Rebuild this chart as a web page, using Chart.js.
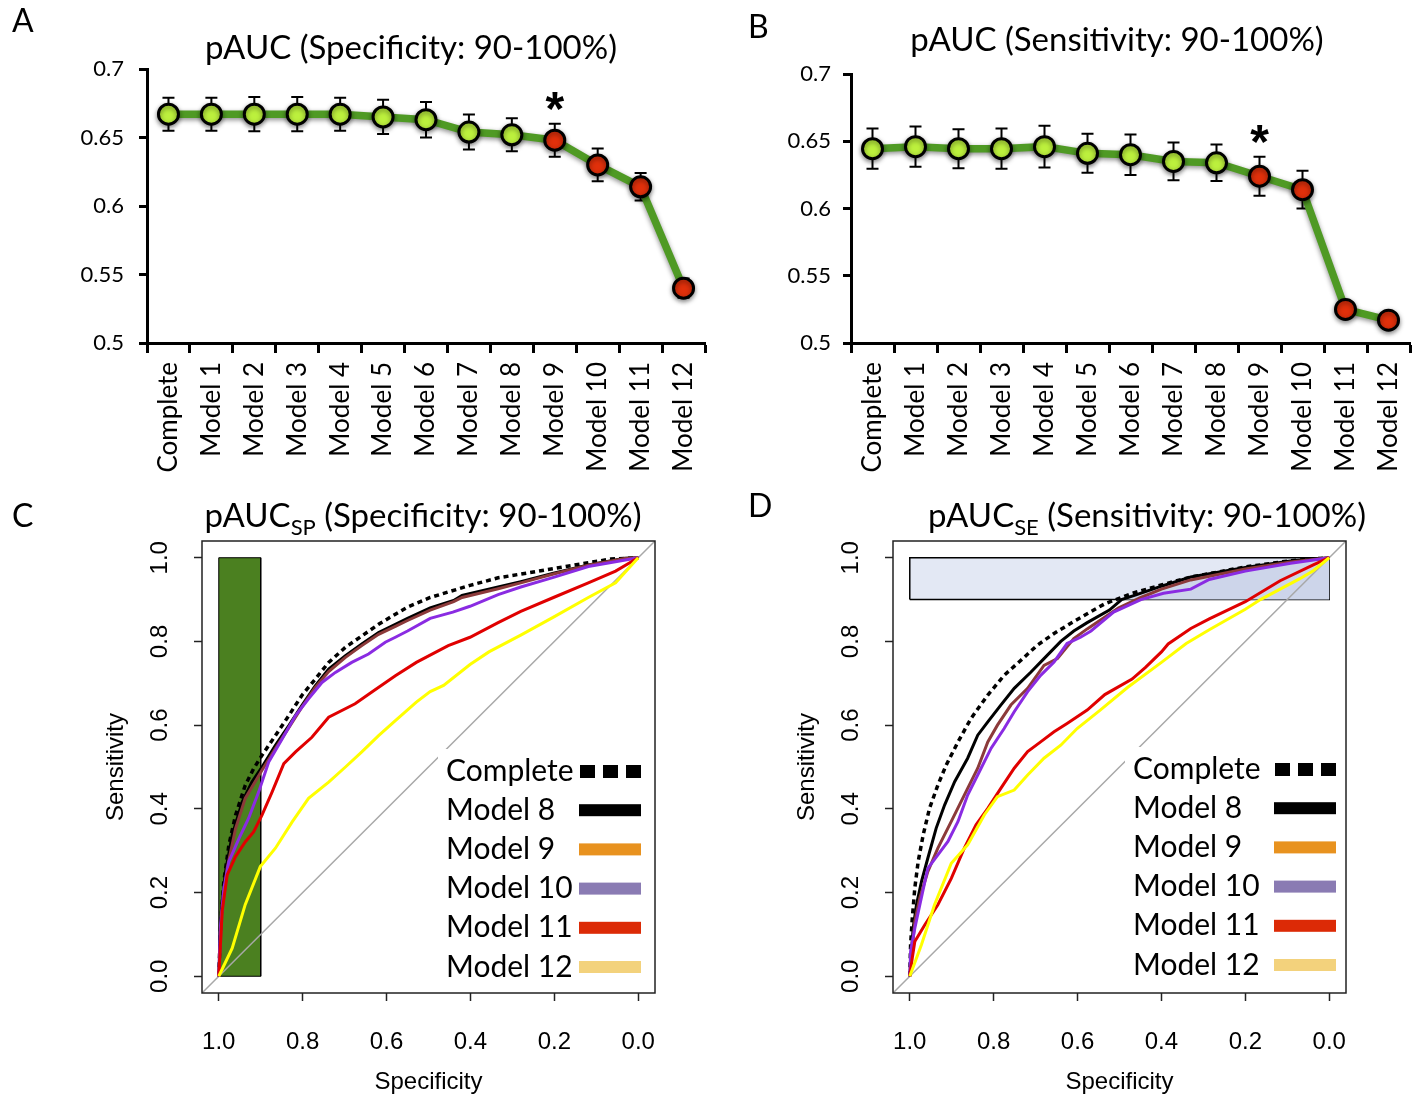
<!DOCTYPE html>
<html>
<head>
<meta charset="utf-8">
<script src="https://cdn.jsdelivr.net/npm/chart.js@4.4.1/dist/chart.umd.min.js"></script>
<style>
  body { margin: 0; background: #fff; }
  #wrap { position: relative; width: 1421px; height: 1097px; }
  canvas { position: absolute; }
</style>
</head>
<body>
<div id="wrap">
  <canvas id="cA" width="710" height="480" style="left:0;top:0"></canvas>
  <canvas id="cB" width="711" height="480" style="left:710px;top:0"></canvas>
  <canvas id="cC" width="710" height="607" style="left:0;top:490px"></canvas>
  <canvas id="cD" width="711" height="607" style="left:710px;top:490px"></canvas>
</div>
<script>
// --- data ---
const models = ['Complete', 'Model 1', 'Model 2', 'Model 3', 'Model 4', 'Model 5', 'Model 6',
  'Model 7', 'Model 8', 'Model 9', 'Model 10', 'Model 11', 'Model 12'];
const yTicksAB = [0.5, 0.55, 0.6, 0.65, 0.7];

// panel A: pAUC, specificity 90-100%
const paucSpec = [0.667, 0.667, 0.667, 0.667, 0.667, 0.665, 0.663, 0.654, 0.652, 0.648, 0.630, 0.614, 0.540];
const errSpec  = [0.012, 0.012, 0.0125, 0.0125, 0.012, 0.0125, 0.013, 0.0127, 0.012, 0.012, 0.012, 0.010, 0.007];
// panel B: pAUC, sensitivity 90-100%
const paucSens = [0.6445, 0.646, 0.6445, 0.6445, 0.646, 0.641, 0.640, 0.635, 0.634, 0.624, 0.614, 0.525, 0.517];
const errSens  = [0.015, 0.015, 0.0145, 0.015, 0.0155, 0.0145, 0.015, 0.014, 0.0135, 0.0145, 0.014, 0.003, 0.003];
const significant = [0, 0, 0, 0, 0, 0, 0, 0, 0, 1, 1, 1, 1];
const starModel = 'Model 9';

const rocTicks = [0, 0.2, 0.4, 0.6, 0.8, 1.0];
const rocLim = [-0.04, 1.04];
const spBand = [0.9, 1.0];   // specificity band shaded in C
const seBand = [0.9, 1.0];   // sensitivity band shaded in D

// ROC curves, [specificity, sensitivity]
const cComplete = [[1,0],[0.996,0.115],[0.988,0.226],[0.976,0.313],[0.96,0.385],[0.937,0.456],[0.917,0.496],[0.897,0.528],[0.865,0.575],[0.833,0.623],[0.802,0.671],[0.77,0.71],[0.738,0.75],[0.698,0.786],[0.659,0.813],[0.619,0.841],[0.579,0.865],[0.55,0.882],[0.496,0.905],[0.401,0.934],[0.334,0.952],[0.202,0.974],[0.119,0.988],[0.065,0.997],[0,1]];
const cModel8 = [[1,0],[0.994,0.155],[0.984,0.25],[0.968,0.337],[0.944,0.417],[0.921,0.464],[0.897,0.5],[0.865,0.552],[0.833,0.599],[0.802,0.647],[0.77,0.694],[0.738,0.734],[0.698,0.766],[0.659,0.794],[0.619,0.821],[0.579,0.841],[0.55,0.855],[0.496,0.88],[0.44,0.898],[0.42,0.91],[0.334,0.93],[0.28,0.943],[0.202,0.963],[0.119,0.983],[0.032,0.999],[0,1]];
const cModel9 = [[1,0],[0.992,0.155],[0.98,0.258],[0.96,0.353],[0.937,0.425],[0.897,0.492],[0.865,0.544],[0.833,0.594],[0.802,0.643],[0.77,0.69],[0.738,0.728],[0.698,0.762],[0.659,0.79],[0.619,0.817],[0.579,0.836],[0.55,0.85],[0.496,0.875],[0.44,0.895],[0.42,0.905],[0.334,0.926],[0.28,0.94],[0.202,0.961],[0.119,0.982],[0.032,0.998],[0,1]];
const cModel10 = [[1,0],[0.996,0.12],[0.988,0.21],[0.976,0.274],[0.952,0.329],[0.929,0.377],[0.905,0.44],[0.881,0.512],[0.849,0.567],[0.817,0.623],[0.786,0.663],[0.754,0.702],[0.722,0.726],[0.683,0.75],[0.643,0.77],[0.603,0.798],[0.579,0.81],[0.55,0.825],[0.496,0.855],[0.442,0.87],[0.401,0.884],[0.334,0.912],[0.28,0.93],[0.202,0.953],[0.119,0.979],[0,1]];
const cModel11 = [[1,0],[0.992,0.155],[0.98,0.242],[0.96,0.286],[0.937,0.321],[0.917,0.345],[0.897,0.385],[0.873,0.44],[0.845,0.508],[0.817,0.536],[0.778,0.571],[0.738,0.619],[0.675,0.651],[0.635,0.679],[0.579,0.718],[0.529,0.75],[0.453,0.79],[0.401,0.81],[0.334,0.845],[0.28,0.872],[0.202,0.905],[0.119,0.94],[0.054,0.968],[0,1]];
const cModel12 = [[1,0],[0.968,0.067],[0.937,0.171],[0.901,0.262],[0.865,0.306],[0.825,0.369],[0.786,0.425],[0.738,0.464],[0.698,0.5],[0.659,0.536],[0.619,0.575],[0.579,0.611],[0.529,0.655],[0.496,0.68],[0.464,0.695],[0.401,0.745],[0.356,0.775],[0.28,0.815],[0.202,0.858],[0.119,0.905],[0.054,0.94],[0,1]];

const dComplete = [[1,0],[0.998,0.076],[0.994,0.139],[0.988,0.211],[0.98,0.274],[0.968,0.338],[0.953,0.401],[0.933,0.457],[0.913,0.505],[0.885,0.56],[0.854,0.616],[0.814,0.672],[0.775,0.719],[0.735,0.755],[0.696,0.791],[0.656,0.819],[0.617,0.843],[0.577,0.866],[0.535,0.89],[0.47,0.915],[0.4,0.935],[0.33,0.954],[0.2,0.978],[0.092,0.993],[0,1]];
const dModel8 = [[1,0],[0.992,0.115],[0.984,0.171],[0.972,0.227],[0.957,0.282],[0.937,0.354],[0.917,0.409],[0.893,0.465],[0.862,0.521],[0.838,0.576],[0.814,0.608],[0.783,0.648],[0.751,0.688],[0.711,0.727],[0.68,0.759],[0.64,0.8],[0.609,0.825],[0.577,0.845],[0.524,0.875],[0.495,0.9],[0.459,0.912],[0.4,0.932],[0.33,0.954],[0.2,0.977],[0.092,0.992],[0,1]];
const dModel9 = [[1,0],[0.988,0.131],[0.976,0.187],[0.957,0.25],[0.933,0.306],[0.901,0.37],[0.87,0.433],[0.838,0.497],[0.814,0.56],[0.791,0.6],[0.759,0.648],[0.719,0.688],[0.68,0.743],[0.648,0.759],[0.609,0.807],[0.577,0.83],[0.503,0.88],[0.449,0.905],[0.4,0.925],[0.33,0.947],[0.2,0.973],[0.092,0.99],[0,1]];
const dModel10 = [[1,0],[0.998,0.06],[0.988,0.115],[0.976,0.171],[0.957,0.258],[0.933,0.29],[0.909,0.322],[0.885,0.37],[0.862,0.433],[0.83,0.497],[0.806,0.545],[0.775,0.592],[0.751,0.632],[0.719,0.68],[0.688,0.719],[0.656,0.751],[0.625,0.795],[0.593,0.81],[0.568,0.825],[0.514,0.87],[0.449,0.9],[0.395,0.915],[0.33,0.925],[0.286,0.948],[0.2,0.968],[0.092,0.987],[0,1]];
const dModel11 = [[1,0],[0.994,0.044],[0.988,0.083],[0.964,0.123],[0.933,0.171],[0.901,0.234],[0.87,0.306],[0.842,0.362],[0.814,0.401],[0.783,0.449],[0.751,0.497],[0.719,0.537],[0.688,0.56],[0.656,0.584],[0.625,0.604],[0.577,0.636],[0.535,0.673],[0.47,0.71],[0.438,0.738],[0.4,0.775],[0.384,0.794],[0.33,0.831],[0.286,0.854],[0.2,0.895],[0.117,0.945],[0.038,0.983],[0,1]];
const dModel12 = [[1,0],[0.972,0.076],[0.941,0.171],[0.901,0.27],[0.862,0.314],[0.822,0.386],[0.791,0.429],[0.751,0.445],[0.719,0.481],[0.68,0.521],[0.64,0.552],[0.601,0.592],[0.546,0.636],[0.481,0.69],[0.4,0.75],[0.341,0.795],[0.286,0.828],[0.2,0.877],[0.164,0.9],[0.07,0.95],[0.038,0.969],[0,1]];

const legendNames = ['Complete', 'Model 8', 'Model 9', 'Model 10', 'Model 11', 'Model 12'];
const legendSwatch = ['#000000', '#000000', '#e8921f', '#8a7bb3', '#dc2a06', '#f3d27c'];
const curveColors = ['#000000', '#000000', '#8c3a3a', '#8a2be2', '#e00000', '#ffff00'];

Chart.defaults.font.family = 'Lato';
Chart.defaults.color = '#000';

// fixed axis sizes, no extra label padding
const fixW = w => s => { s.width = w; s.paddingTop = 0; s.paddingBottom = 0; };
const fixH = h => s => { s.height = h; s.paddingLeft = 0; s.paddingRight = 0; };

// error bars under the line
const errorBars = {
  id: 'errorBars',
  beforeDatasetsDraw(chart, args, o) {
    if (!o.err) return;
    const {ctx, scales: {x, y}} = chart;
    const vals = chart.data.datasets[0].data;
    ctx.save();
    ctx.strokeStyle = '#000';
    ctx.lineWidth = 2;
    vals.forEach((v, i) => {
      const px = x.getPixelForValue(i);
      const t = y.getPixelForValue(v + o.err[i]), b = y.getPixelForValue(v - o.err[i]);
      ctx.beginPath();
      ctx.moveTo(px, t); ctx.lineTo(px, b);
      ctx.moveTo(px - 6, t); ctx.lineTo(px + 6, t);
      ctx.moveTo(px - 6, b); ctx.lineTo(px + 6, b);
      ctx.stroke();
    });
    ctx.restore();
  }
};

// soft shadow under the marker line
const shadow = {
  id: 'shadow',
  beforeDatasetDraw(chart, args, o) {
    if (!o.on) return;
    const ctx = chart.ctx;
    ctx.save();
    ctx.shadowColor = 'rgba(0,0,0,0.45)';
    ctx.shadowBlur = 5;
    ctx.shadowOffsetY = 2;
  },
  afterDatasetDraw(chart, args, o) {
    if (o.on) chart.ctx.restore();
  }
};

// legend box + plot frame for the ROC panels
const rocDecor = {
  id: 'rocDecor',
  afterDatasetsDraw(chart, args, o) {
    if (!o.legend) return;
    const ctx = chart.ctx, L = o.legend, ca = chart.chartArea;
    ctx.save();
    ctx.fillStyle = '#fff';
    ctx.fillRect(L.x - 8, L.y - 22, L.sw2 - L.x + 14, L.step * legendNames.length + 8);
    ctx.font = L.size + 'px Lato';
    ctx.textBaseline = 'middle';
    ctx.textAlign = 'left';
    legendNames.forEach((name, i) => {
      const cy = L.y + i * L.step;
      ctx.fillStyle = '#000';
      ctx.fillText(name, L.x, cy);
      ctx.fillStyle = legendSwatch[i];
      if (i === 0) {
        for (let k = 0; k < 3; k++) ctx.fillRect(L.dash + k * 23, cy - 6, 15, 13);
      } else {
        ctx.fillRect(L.sw1, cy - 6, L.sw2 - L.sw1, 12);
      }
    });
    ctx.strokeStyle = '#222';
    ctx.lineWidth = 1.5;
    ctx.strokeRect(ca.left, ca.top, ca.right - ca.left, ca.bottom - ca.top);
    ctx.restore();
  }
};

// panel letter, title, asterisk
const decor = {
  id: 'decor',
  afterDraw(chart, args, o) {
    const ctx = chart.ctx;
    ctx.save();
    ctx.fillStyle = '#000';
    ctx.textBaseline = 'alphabetic';
    ctx.textAlign = 'left';
    ctx.font = '32px Lato';
    ctx.fillText(o.letter[0], o.letter[1], o.letter[2]);
    const big = o.title.size + 'px Lato', small = Math.round(o.title.size * 0.68) + 'px Lato';
    let w = 0;
    o.title.parts.forEach(p => { ctx.font = p.sub ? small : big; w += ctx.measureText(p.t).width; });
    let x = o.title.cx - w / 2;
    o.title.parts.forEach(p => {
      ctx.font = p.sub ? small : big;
      ctx.fillText(p.t, x, o.title.y + (p.sub ? 8 : 0));
      x += ctx.measureText(p.t).width;
    });
    if (o.star) {
      const i = models.indexOf(starModel);
      const v = chart.data.datasets[0].data[i] + o.star.err[i];
      const px = chart.scales.x.getPixelForValue(i);
      const py = chart.scales.y.getPixelForValue(v) - o.star.gap;
      ctx.font = 'bold 48px "Liberation Sans"';
      ctx.textAlign = 'center';
      ctx.fillText('*', px, py + 28);
    }
    ctx.restore();
  }
};

function dotChart(id, vals, errs, yWidth, padRight, padTop, tickPad, letter, title) {
  return new Chart(document.getElementById(id), {
    type: 'line',
    data: {
      labels: models,
      datasets: [{
        data: vals,
        borderColor: '#4f9a24',
        borderWidth: 7.5,
        pointRadius: 10,
        pointBorderWidth: 3,
        pointBorderColor: '#000',
        pointBackgroundColor: significant.map(s => s ? '#e0300b' : '#bcf03d'),
        tension: 0,
        clip: false
      }]
    },
    options: {
      responsive: false,
      animation: false,
      devicePixelRatio: 1,
      layout: { padding: { left: 0, top: padTop, right: padRight, bottom: 0 }, autoPadding: false },
      plugins: {
        legend: { display: false },
        tooltip: { enabled: false },
        errorBars: { err: errs },
        shadow: { on: true },
        decor: { letter: letter, title: title, star: { err: errs, gap: 27 } }
      },
      scales: {
        x: {
          type: 'category',
          offset: true,
          grid: { offset: true, drawOnChartArea: false, tickLength: 10, tickWidth: 3, tickColor: '#000' },
          border: { width: 3, color: '#000' },
          ticks: { minRotation: 90, maxRotation: 90, autoSkip: false, padding: 9, color: '#000', font: { size: 26 } },
          afterFit: fixH(137)
        },
        y: {
          min: 0.5, max: 0.7,
          afterBuildTicks: s => { s.ticks = yTicksAB.map(v => ({ value: v })); },
          grid: { drawOnChartArea: false, tickLength: 8, tickWidth: 3, tickColor: '#000' },
          border: { width: 3, color: '#000' },
          ticks: { padding: tickPad, color: '#000', font: { size: 22 }, callback: v => String(v) },
          afterFit: fixW(yWidth)
        }
      }
    },
    plugins: [errorBars, shadow, decor]
  });
}

const pts = arr => arr.map(p => ({ x: p[0], y: p[1] }));

function rocChart(id, curves, bandSets, yWidth, padRight, yTitlePad, letter, title, legend) {
  const lines = curves.map((c, i) => ({
    data: pts(c),
    borderColor: curveColors[i],
    borderWidth: i === 0 ? 3.5 : 3,
    borderDash: i === 0 ? [5, 4] : [],
    order: 10 - i
  }));
  const diag = {
    data: pts([[rocLim[1], rocLim[0]], [rocLim[0], rocLim[1]]]),
    borderColor: '#a8a8a8', borderWidth: 1.5, order: 20
  };
  return new Chart(document.getElementById(id), {
    type: 'scatter',
    data: { datasets: [...bandSets, diag, ...lines].map(d => Object.assign({ showLine: true, pointRadius: 0, tension: 0 }, d)) },
    options: {
      responsive: false,
      animation: false,
      devicePixelRatio: 1,
      layout: { padding: { left: 0, top: 51, right: padRight, bottom: 0 }, autoPadding: false },
      plugins: {
        legend: { display: false },
        tooltip: { enabled: false },
        rocDecor: { legend: legend },
        decor: { letter: letter, title: title }
      },
      scales: {
        x: {
          type: 'linear', reverse: true, min: rocLim[0], max: rocLim[1],
          afterBuildTicks: s => { s.ticks = rocTicks.map(v => ({ value: v })); },
          grid: { drawOnChartArea: false, tickLength: 8, tickWidth: 1.5, tickColor: '#222' },
          border: { display: false },
          ticks: { padding: 27, color: '#000', font: { family: 'Liberation Sans', size: 24 }, callback: v => v.toFixed(1) },
          title: { display: true, text: 'Specificity', color: '#000', font: { family: 'Liberation Sans', size: 24 }, padding: { top: 0, bottom: 0 } },
          afterFit: fixH(104)
        },
        y: {
          type: 'linear', min: rocLim[0], max: rocLim[1],
          afterBuildTicks: s => { s.ticks = rocTicks.map(v => ({ value: v })); },
          grid: { drawOnChartArea: false, tickLength: 8, tickWidth: 1.5, tickColor: '#222' },
          border: { display: false },
          ticks: { minRotation: 90, maxRotation: 90, crossAlign: 'center', padding: 17, color: '#000', font: { family: 'Liberation Sans', size: 24 }, callback: v => v.toFixed(1) },
          title: { display: true, text: 'Sensitivity', color: '#000', font: { family: 'Liberation Sans', size: 24 }, padding: { top: yTitlePad, bottom: 0 } },
          afterFit: fixW(yWidth)
        }
      }
    },
    plugins: [rocDecor, decor]
  });
}

dotChart('cA', paucSpec, errSpec, 147, 5, 69, 15, ['A', 12, 32],
  { parts: [{ t: 'pAUC (Specificity: 90-100%)' }], cx: 411, y: 59, size: 33 });
dotChart('cB', paucSens, errSens, 141, 11, 74, 12, ['B', 38, 38],
  { parts: [{ t: 'pAUC (Sensitivity: 90-100%)' }], cx: 407, y: 51, size: 33 });

// C: specificity band as a closed shape
const bandC = {
  data: pts([[spBand[1], 0], [spBand[1], 1], [spBand[0], 1], [spBand[0], 0], [spBand[1], 0]]),
  borderColor: '#000', borderWidth: 1, backgroundColor: '#4b8020', fill: 'shape', order: 30
};
rocChart('cC', [cComplete, cModel8, cModel9, cModel10, cModel11, cModel12], [bandC], 202, 55, 102,
  ['C', 12, 37],
  { parts: [{ t: 'pAUC' }, { t: 'SP', sub: true }, { t: ' (Specificity: 90-100%)' }], cx: 423, y: 37, size: 33 },
  { x: 446, y: 281, step: 39.2, size: 30, sw1: 579, sw2: 641, dash: 580 });

// D: sensitivity band, darker part under the Model 8 curve
const bandD = {
  data: pts([[1, seBand[0]], [1, seBand[1]], [0, seBand[1]], [0, seBand[0]], [1, seBand[0]]]),
  borderColor: '#000', borderWidth: 1.5, backgroundColor: '#e3e8f4', fill: 'shape', order: 31
};
const underD = {
  data: pts([...dModel8.filter(p => p[1] >= seBand[0]), [0, seBand[0]]]),
  borderColor: 'rgba(0,0,0,0)', borderWidth: 0, backgroundColor: '#cdd5ea', fill: 'shape', order: 30
};
rocChart('cD', [dComplete, dModel8, dModel9, dModel10, dModel11, dModel12], [bandD, underD], 183, 75, 83,
  ['D', 38, 27],
  { parts: [{ t: 'pAUC' }, { t: 'SE', sub: true }, { t: ' (Sensitivity: 90-100%)' }], cx: 437, y: 37, size: 33 },
  { x: 423, y: 279, step: 39.2, size: 30, sw1: 564, sw2: 626, dash: 565 });
</script>
</body>
</html>
